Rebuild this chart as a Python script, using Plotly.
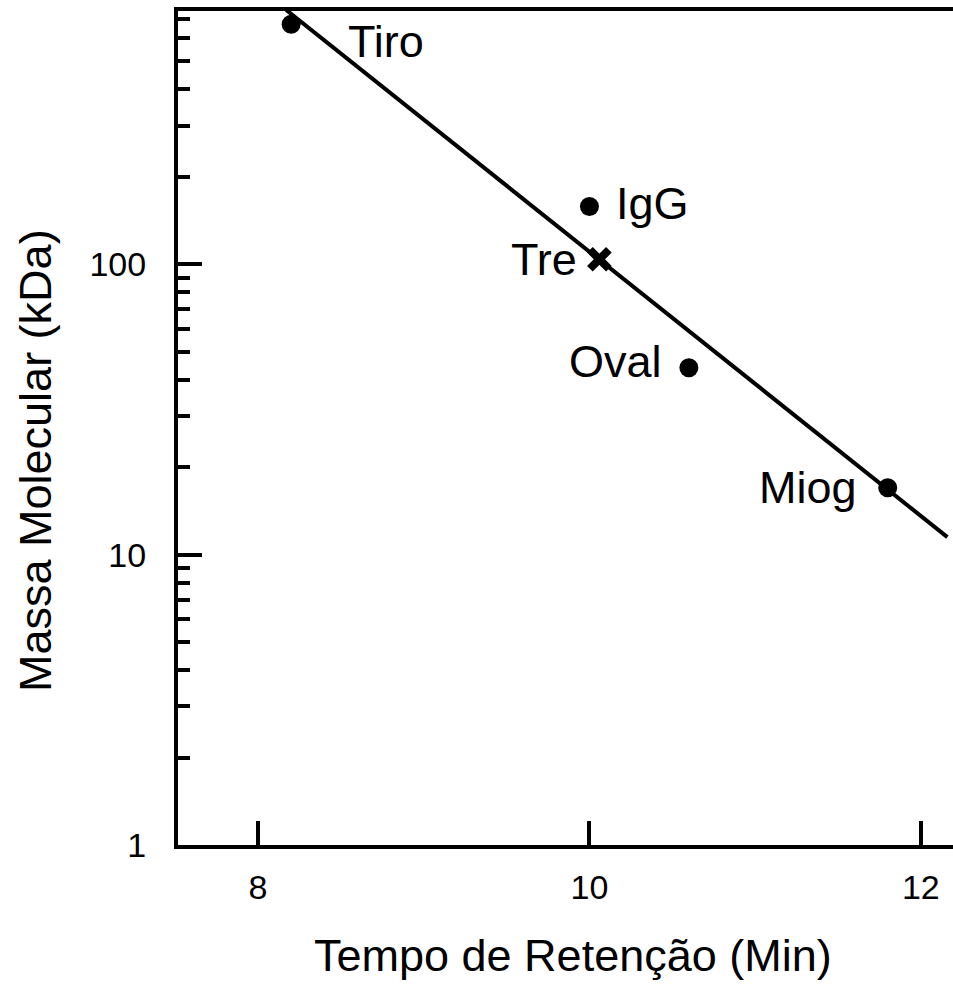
import numpy as np
import plotly.graph_objects as go

# Calibration standards: retention time (min) vs molecular mass (kDa)
standards = ["Tiro", "IgG", "Oval", "Miog"]
std_time = [8.2, 10.0, 10.6, 11.8]
std_mass = [670, 158, 44, 17]

# Sample (Tre) placed on the calibration curve
sample_name = "Tre"
sample_time = [10.06]
sample_mass = [104]

# x-extent of the drawn calibration line
fit_span = [8.17, 12.16]

# Label offsets (pixels) and anchoring for each standard
label_dx = [55, 25, -25, -29]
label_anchor = ["left", "left", "right", "right"]
label_dy = [-17, 3, 6, 0]

FONT = "Arial, Liberation Sans, sans-serif"

# log-linear least squares fit of the standards
slope, intercept = np.polyfit(std_time, np.log10(std_mass), 1)
fit_x = np.array(fit_span)
fit_y = 10 ** (intercept + slope * fit_x)

fig = go.Figure()

fig.add_trace(go.Scatter(
    x=fit_x, y=fit_y, mode="lines",
    line=dict(color="black", width=4),
    showlegend=False, hoverinfo="skip",
))

fig.add_trace(go.Scatter(
    x=std_time, y=std_mass, mode="markers",
    marker=dict(color="black", size=19, symbol="circle"),
    showlegend=False,
))

fig.add_trace(go.Scatter(
    x=sample_time, y=sample_mass, mode="markers",
    marker=dict(color="black", size=19, symbol="x-thin",
                line=dict(color="black", width=8)),
    showlegend=False,
))

annotations = []
for name, tx, my, dx, anc, dy in zip(standards, std_time, std_mass,
                                     label_dx, label_anchor, label_dy):
    annotations.append(dict(
        x=tx, y=np.log10(my), xref="x", yref="y", text=name,
        showarrow=False, xanchor=anc, yanchor="middle",
        xshift=dx, yshift=dy, font=dict(family=FONT, size=45, color="black"),
    ))
annotations.append(dict(
    x=sample_time[0], y=np.log10(sample_mass[0]), xref="x", yref="y",
    text=sample_name, showarrow=False, xanchor="right", yanchor="middle",
    xshift=-20, yshift=0, font=dict(family=FONT, size=45, color="black"),
))

# Axis titles (pixel centres, converted to paper coordinates below)
annotations.append(dict(
    x=573, y=955, xref="paper", yref="paper", text="Tempo de Retenção (Min)",
    showarrow=False, xanchor="center", yanchor="middle",
    font=dict(family=FONT, size=45, color="black"),
))
annotations.append(dict(
    x=35, y=461, xref="paper", yref="paper", text="Massa Molecular (kDa)",
    showarrow=False, textangle=-90, xanchor="center", yanchor="middle",
    font=dict(family=FONT, size=45, color="black"),
))

W, H = 953, 988
L, R, T, B = 178, 0, 11, 143
pw, ph = W - L - R, H - T - B
for a in annotations[-2:]:
    a["x"] = (a["x"] - L) / pw
    a["y"] = (H - B - a["y"]) / ph

minor_vals = [m * 10 ** d for d in range(3) for m in range(2, 10) if m * 10 ** d < 750]

fig.update_layout(
    width=W, height=H,
    margin=dict(l=L, r=R, t=T, b=B, pad=0),
    paper_bgcolor="white", plot_bgcolor="white",
    font=dict(family=FONT, color="black"),
    annotations=annotations,
    xaxis=dict(
        range=[7.517, 12.194], tickvals=[8, 10, 12], ticktext=["8", "10", "12"],
        ticks="inside", ticklen=24, tickwidth=4, tickcolor="black",
        showline=True, linewidth=4, linecolor="black", mirror=True,
        showgrid=False, zeroline=False,
        tickfont=dict(family=FONT, size=34, color="black"),
        ticklabelstandoff=9,
    ),
    yaxis=dict(
        type="log", range=[0, 2.872],
        tickvals=[1, 10, 100], ticktext=["1", "10", "100"],
        ticks="inside", ticklen=24, tickwidth=4, tickcolor="black",
        minor=dict(tickvals=minor_vals, ticks="inside", ticklen=12,
                   tickwidth=4, tickcolor="black", showgrid=False),
        showline=True, linewidth=4, linecolor="black",
        showgrid=False, zeroline=False,
        tickfont=dict(family=FONT, size=34, color="black"),
        ticklabelstandoff=21,
    ),
)

fig.write_html("out.html")
